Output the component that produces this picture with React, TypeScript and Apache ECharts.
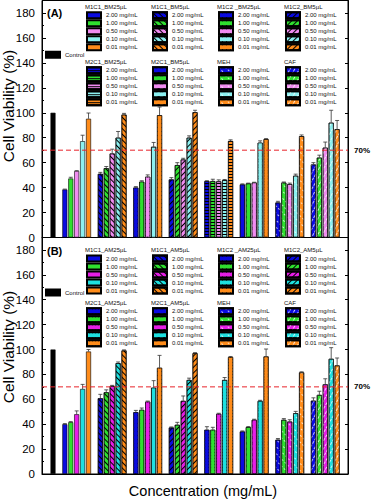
import React, { useEffect, useRef } from 'react';
import * as echarts from 'echarts';

// ---------- data ----------
const groupsA = ['M1C1_BM25µL', 'M1C1_BM5µL', 'M1C2 _BM25µL', 'M1C2_BM5µL', 'M2C1_BM25µL', 'M2C1_BM5µL', 'MEH', 'CAF'];
const groupsB = ['M1C1_AM25µL', 'M1C1_AM5µL', 'M1C2 _AM25µL', 'M1C2_AM5µL', 'M2C1_AM25µL', 'M2C1_AM5µL', 'MEH', 'CAF'];
const concentrations = ['2.00 mg/mL', '1.00 mg/mL', '0.50 mg/mL', '0.10 mg/mL', '0.01 mg/mL'];
const controlValue = 100;
const yTicks = [0, 20, 40, 60, 80, 100, 120, 140, 160, 180];
const thresholdValue = 70;

// Panel A values (per concentration, across the 8 groups)
const a200 = [38.5, 51, 40, 46.5, 45.2, 42.5, 28, 58.5];
const a100 = [47.3, 55.5, 44.7, 58, 45.2, 43.3, 44, 64];
const a050 = [53.3, 67.3, 48.7, 62.5, 45, 44, 42.8, 72];
const a010 = [77.2, 80, 72.7, 80, 46, 76, 49.5, 92];
const a001 = [95.2, 98.5, 98, 100.4, 77.3, 78.8, 81.2, 86.8];
const aErr200 = [0.3, 1.2, 0.8, 1.5, 0.3, 0.5, 1, 1.5];
const aErr100 = [1, 1.4, 0.8, 2, 1.5, 0.3, 0.5, 2];
const aErr050 = [0.3, 3.5, 1.5, 1, 1.2, 0.3, 0.8, 4.5];
const aErr010 = [4.8, 5, 3.5, 1.5, 0.5, 1.5, 1.3, 10];
const aErr001 = [4.6, 1, 6.6, 1.6, 1, 0.5, 1, 7];

// Panel B values
const b200 = [40, 60.8, 49.6, 37.3, 35.5, 34.1, 27.5, 58.9];
const b100 = [41.6, 65.6, 51.5, 39.5, 35.5, 37.6, 43.5, 63.5];
const b050 = [48, 70.7, 58.1, 58.7, 48.3, 43.5, 42.1, 72];
const b010 = [68.3, 89, 69.3, 75.5, 75.5, 58.7, 48.8, 92.5];
const b001 = [98.4, 99.2, 85.3, 97, 93.9, 94.4, 81.6, 87.2];
const bErr200 = [0.5, 3.2, 1.5, 0.5, 2.5, 0.5, 1, 2.3];
const bErr100 = [0.5, 2, 1.5, 2, 2, 0.5, 1, 3];
const bErr050 = [2.7, 0.5, 0.5, 4, 0.5, 0.5, 1.5, 4.5];
const bErr010 = [3.7, 1, 5.7, 1.5, 2, 0.5, 1.5, 9];
const bErr001 = [1.6, 0.5, 10, 0.5, 0.5, 6, 0.5, 6];

const valsA = [a200, a100, a050, a010, a001];
const errsA = [aErr200, aErr100, aErr050, aErr010, aErr001];
const valsB = [b200, b100, b050, b010, b001];
const errsB = [bErr200, bErr100, bErr050, bErr010, bErr001];

// ---------- styles / layout ----------
const colorsA = ['#0a0ae0', '#2fe02f', '#f08cf0', '#8cf0f0', '#ff8c1a'];
const colorsB = ['#0a0ae0', '#2fe02f', '#e61ee6', '#1ee0e0', '#ff8c1a'];
const patternsA = ['solid', 'fwd', 'grid', 'back', 'hline', 'xhatch', 'sparse', 'wave'];
const patternsB = ['solid', 'fwd', 'grid', 'back', 'finegrid', 'xhatch', 'sparse', 'wave'];

const X_MAX = 51.7;
const X_CONTROL = 1.86;
const pos = (g: number, k: number) => X_CONTROL + 4 + 6 * g + (k - 2);

function decalFor(p: string, color: string): any {
  const line = (rot: number, gap: number, c = '#000', dx: any = [1, 0]) => ({
    symbol: 'rect', symbolSize: 1, color: c, dashArrayX: dx, dashArrayY: [1, gap], rotation: rot,
  });
  switch (p) {
    case 'fwd': return line(Math.PI / 4, 3);
    case 'back': return line(-Math.PI / 4, 3);
    case 'hline': return line(0, 2);
    case 'grid': return { symbol: 'rect', symbolSize: 1, color, backgroundColor: '#000', dashArrayX: [3, 1], dashArrayY: [3, 1], rotation: 0 };
    case 'finegrid': return { symbol: 'rect', symbolSize: 1, color, backgroundColor: '#000', dashArrayX: [2, 1], dashArrayY: [2, 1], rotation: 0 };
    case 'xhatch': return { symbol: 'rect', symbolSize: 1, color, backgroundColor: '#000', dashArrayX: [3, 1], dashArrayY: [3, 1], rotation: Math.PI / 4 };
    case 'sparse': return line(Math.PI / 4, 4, 'rgba(255,255,255,0.7)', [2, 2]);
    case 'wave': return line(-Math.PI / 3, 3, 'rgba(255,255,255,0.75)', [3, 1]);
    default: return undefined;
  }
}

function itemStyleFor(color: string, pattern: string) {
  const s: any = { color, borderColor: '#000', borderWidth: 0.6 };
  const d = decalFor(pattern, color);
  if (d) s.decal = d;
  return s;
}

function barData(vals: number[][], colors: string[], patterns: string[]) {
  const out: any[] = [{ value: [X_CONTROL, controlValue], itemStyle: { color: '#000', borderColor: '#000', borderWidth: 0.6 } }];
  vals.forEach((arr, k) => arr.forEach((v, g) => {
    out.push({ value: [pos(g, k), v], itemStyle: itemStyleFor(colors[k], patterns[g]) });
  }));
  return out;
}

function errData(vals: number[][], errs: number[][]) {
  const out: number[][] = [];
  vals.forEach((arr, k) => arr.forEach((v, g) => out.push([pos(g, k), v, v + errs[k][g]])));
  return out;
}

const renderErr = (params: any, api: any) => {
  const x = api.value(0);
  const p1 = api.coord([x, api.value(1)]);
  const p2 = api.coord([x, api.value(2)]);
  const st = { stroke: '#333', lineWidth: 0.8 };
  return {
    type: 'group',
    children: [
      { type: 'line', shape: { x1: p1[0], y1: p1[1], x2: p2[0], y2: p2[1] }, style: st },
      { type: 'line', shape: { x1: p2[0] - 2, y1: p2[1], x2: p2[0] + 2, y2: p2[1] }, style: st },
    ],
  };
};

const FONT = "'Liberation Sans', Arial, sans-serif";

const thresholdSeries = (xAxisIndex: number, yAxisIndex: number) => ({
  type: 'line', xAxisIndex, yAxisIndex, silent: true, z: 6,
  data: [[0, thresholdValue], [X_MAX, thresholdValue]],
  symbol: 'none', showSymbol: false,
  color: '#e8232a',
  lineStyle: { color: '#e8232a', type: [5, 3], width: 1 },
  endLabel: { show: true, formatter: '70%', fontSize: 8, fontWeight: 'bold', color: '#000', distance: 6, fontFamily: FONT },
});

export default function App() {
  const ref = useRef<HTMLDivElement>(null);
  useEffect(() => {
    if (!ref.current) return;
    const chart = echarts.init(ref.current, undefined, { renderer: 'svg' });

    const yLeft = (gridIndex: number) => ({
      type: 'value', gridIndex, position: 'left', min: 0, max: 190, interval: 20,
      axisLine: { show: true, lineStyle: { color: '#000', width: 1 } },
      axisTick: { show: true, inside: true, length: 4, lineStyle: { color: '#000' } },
      minorTick: { show: true, splitNumber: 2, length: 2, lineStyle: { color: '#000' } },
      splitLine: { show: false },
      axisLabel: { fontSize: 11.5, color: '#000', margin: 7, fontFamily: FONT, formatter: (v: number) => (yTicks.includes(v) ? String(v) : '') },
    });
    const yRight = (gridIndex: number) => ({
      type: 'value', gridIndex, position: 'right', min: 0, max: 190, interval: 20,
      axisLine: { show: true, lineStyle: { color: '#000', width: 1 } },
      axisTick: { show: true, inside: true, length: 3, lineStyle: { color: '#000' } },
      splitLine: { show: false },
      axisLabel: { show: false },
    });
    const xAx = (gridIndex: number, extra: any = {}) => ({
      type: 'value', gridIndex, min: 0, max: X_MAX,
      axisLine: { show: true, onZero: false, lineStyle: { color: '#000', width: 1 } },
      axisTick: { show: false }, axisLabel: { show: false }, splitLine: { show: false },
      ...extra,
    });

    const legendSeries: any[] = [];
    const legends: any[] = [];
    const graphics: any[] = [];
    const colX = [86, 152, 218, 285];
    const panels = [
      { key: 'A', groups: groupsA, colors: colorsA, patterns: patternsA, rowTops: [11.2, 66.2], titleY: [6.7, 61.7], ctrlTop: 50.7, tagY: 13.3, tag: '(A)', nameY: 106 },
      { key: 'B', groups: groupsB, colors: colorsB, patterns: patternsB, rowTops: [254.5, 307.2], titleY: [249.5, 303.3], ctrlTop: 288.6, tagY: 251, tag: '(B)', nameY: 347 },
    ];
    legendSeries.push({ type: 'bar', name: 'Control', xAxisIndex: 2, yAxisIndex: 4, data: [], itemStyle: { color: '#000', borderColor: '#000', borderWidth: 0.6 } });
    panels.forEach((P) => {
      P.groups.forEach((gName, g) => {
        const row = g < 4 ? 0 : 1;
        const col = g % 4;
        const names: string[] = [];
        concentrations.forEach((_, k) => {
          const n = `${P.key}|${g}|${k}`;
          names.push(n);
          legendSeries.push({ type: 'bar', name: n, xAxisIndex: 2, yAxisIndex: 4, data: [], itemStyle: itemStyleFor(P.colors[k], P.patterns[g]) });
        });
        legends.push({
          orient: 'vertical', left: colX[col], top: P.rowTops[row], padding: 0, itemGap: 0,
          itemWidth: 14, itemHeight: 6, icon: 'rect', selectedMode: false,
          textStyle: { fontSize: 6, lineHeight: 7.7, color: '#111', fontFamily: FONT },
          data: names,
          formatter: (name: string) => concentrations[Number(name.split('|')[2])],
        });
        graphics.push({
          type: 'text', x: colX[col] - 1, y: P.titleY[row],
          style: { text: gName, fontSize: 6, fill: '#111', fontFamily: FONT, textVerticalAlign: 'middle' },
        });
      });
      legends.push({
        orient: 'vertical', left: 45, top: P.ctrlTop, padding: 0, itemGap: 0,
        itemWidth: 14, itemHeight: 6, icon: 'rect', selectedMode: false,
        textStyle: { fontSize: 6, lineHeight: 7.7, color: '#111', fontFamily: FONT },
        data: ['Control'],
      });
      graphics.push({
        type: 'text', x: 47, y: P.tagY,
        style: { text: P.tag, fontSize: 11, fontWeight: 'bold', fill: '#000', fontFamily: FONT, textVerticalAlign: 'middle' },
      });
      graphics.push({
        type: 'text', x: 8, y: P.nameY, rotation: Math.PI / 2,
        style: { text: 'Cell Viability (%)', fontSize: 15.5, fill: '#000', fontFamily: FONT, textAlign: 'center', textVerticalAlign: 'middle' },
      });
    });

    chart.setOption({
      animation: false,
      backgroundColor: '#fff',
      textStyle: { fontFamily: FONT },
      grid: [
        { left: 42, top: 0.5, width: 306, height: 237, show: true, borderColor: '#000', borderWidth: 1, backgroundColor: 'transparent' },
        { left: 42, top: 237.5, width: 306, height: 236.5, show: true, borderColor: '#000', borderWidth: 1, backgroundColor: 'transparent' },
        { left: -200, top: -200, width: 10, height: 10, show: false },
      ],
      xAxis: [
        xAx(0),
        xAx(1, { name: 'Concentration (mg/mL)', nameLocation: 'middle', nameGap: 9, nameTextStyle: { fontSize: 14.5, color: '#000', fontFamily: FONT, verticalAlign: 'top', padding: [0, 0, 0, 16] } }),
        { type: 'category', gridIndex: 2, show: false, data: ['x'] },
      ],
      yAxis: [yLeft(0), yRight(0), yLeft(1), yRight(1), { type: 'value', gridIndex: 2, show: false }],
      legend: legends,
      graphic: graphics,
      series: [
        { type: 'bar', xAxisIndex: 0, yAxisIndex: 0, barWidth: 5, data: barData(valsA, colorsA, patternsA) },
        { type: 'custom', xAxisIndex: 0, yAxisIndex: 0, renderItem: renderErr, data: errData(valsA, errsA), z: 3 },
        thresholdSeries(0, 0),
        { type: 'bar', xAxisIndex: 1, yAxisIndex: 2, barWidth: 5, data: barData(valsB, colorsB, patternsB) },
        { type: 'custom', xAxisIndex: 1, yAxisIndex: 2, renderItem: renderErr, data: errData(valsB, errsB), z: 3 },
        thresholdSeries(1, 2),
        ...legendSeries,
      ],
    });
    return () => chart.dispose();
  }, []);
  return <div ref={ref} style={{ position: 'fixed', left: 0, top: 0, width: 373, height: 500, background: '#fff' }} />;
}
